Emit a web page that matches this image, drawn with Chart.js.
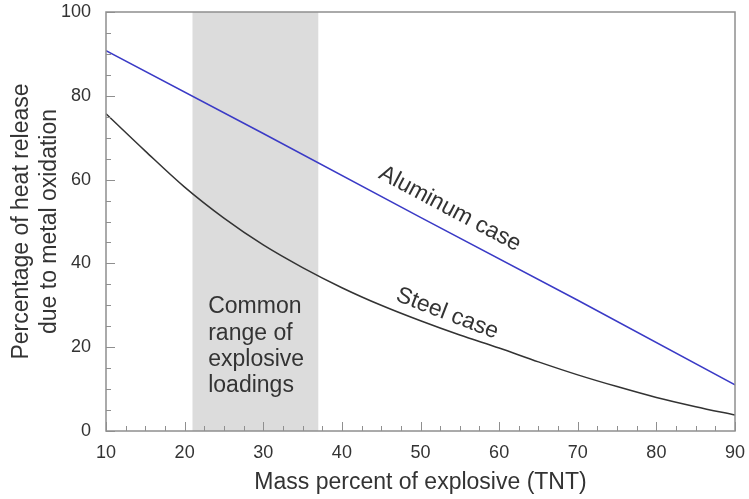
<!DOCTYPE html>
<html>
<head>
<meta charset="utf-8">
<script src="https://cdn.jsdelivr.net/npm/chart.js@4.4.1/dist/chart.umd.min.js"></script>
<style>
  html, body { margin: 0; padding: 0; background: #fff; }
  #wrap { width: 749px; height: 499px; }
</style>
</head>
<body>
<div id="wrap"><canvas id="chart" width="749" height="499"></canvas></div>
<script>
// --- Data ---
const steelX = [10, 15, 20, 25, 30, 35, 40, 45, 50, 55, 60, 65, 70, 75, 80, 85, 90];
const steelY = [75.7, 66.8, 58.2, 50.8, 44.4, 39, 34.2, 30, 26.3, 22.9, 19.8, 16.5, 13.4, 10.6, 8, 5.8, 3.8];
const aluminumX = [10, 30, 50, 70, 90];
const aluminumY = [90.8, 71, 51, 31.2, 11];
const loadingRange = [21, 37];          // shaded band (mass percent)
const xTicks = [10, 20, 30, 40, 50, 60, 70, 80, 90];
const yTicks = [0, 20, 40, 60, 80, 100];

const FONT = '"Liberation Sans", Arial, Helvetica, sans-serif';
const AXIS_GRAY = '#8f8f8f';
const TEXT = '#333333';

const toPoints = (xs, ys) => xs.map((x, i) => ({ x, y: ys[i] }));

// shaded band + frame + inward ticks
const decorPlugin = {
    id: 'decor',
    beforeDatasetsDraw(chart) {
        const { ctx, chartArea: a, scales: { x } } = chart;
        const x0 = x.getPixelForValue(loadingRange[0]);
        const x1 = x.getPixelForValue(loadingRange[1]);
        ctx.save();
        ctx.fillStyle = '#dcdcdc';
        ctx.fillRect(x0, a.top, x1 - x0, a.bottom - a.top);
        ctx.restore();
    },
    afterDraw(chart) {
        const { ctx, chartArea: a, scales: { x, y } } = chart;
        ctx.save();
        ctx.strokeStyle = AXIS_GRAY;
        ctx.lineWidth = 1.5;
        ctx.strokeRect(a.left, a.top, a.right - a.left, a.bottom - a.top);

        ctx.lineWidth = 1;
        ctx.beginPath();
        for (let v = 10; v <= 90; v += 2.5) {
            const px = Math.round(x.getPixelForValue(v)) + 0.5;
            const len = v % 10 === 0 ? 9 : 5;
            ctx.moveTo(px, a.bottom);
            ctx.lineTo(px, a.bottom - len);
        }
        for (let v = 0; v <= 100; v += 5) {
            const py = Math.round(y.getPixelForValue(v)) + 0.5;
            const len = v % 20 === 0 ? 9 : 5;
            ctx.moveTo(a.left, py);
            ctx.lineTo(a.left + len, py);
        }
        ctx.stroke();

        // annotations
        ctx.fillStyle = TEXT;
        ctx.font = '23px ' + FONT;
        ctx.textAlign = 'center';
        ctx.textBaseline = 'middle';

        const label = (text, vx, vy, deg) => {
            ctx.save();
            ctx.translate(x.getPixelForValue(vx), y.getPixelForValue(vy));
            ctx.rotate(deg * Math.PI / 180);
            ctx.fillText(text, 0, 0);
            ctx.restore();
        };
        label('Aluminum case', 53.75, 53, 28);
        label('Steel case', 53.4, 28, 21);

        ctx.textAlign = 'left';
        const lines = ['Common', 'range of', 'explosive', 'loadings'];
        const lx = x.getPixelForValue(23.0);
        const ly = y.getPixelForValue(29.6);
        lines.forEach((t, i) => ctx.fillText(t, lx, ly + i * 26.3));
        ctx.restore();
    }
};

new Chart(document.getElementById('chart'), {
    type: 'line',
    data: {
        datasets: [
            {
                label: 'Aluminum case',
                data: toPoints(aluminumX, aluminumY),
                borderColor: '#3a3ac6',
                borderWidth: 1.5,
                pointRadius: 0,
                tension: 0
            },
            {
                label: 'Steel case',
                data: toPoints(steelX, steelY),
                borderColor: '#333333',
                borderWidth: 1.5,
                pointRadius: 0,
                cubicInterpolationMode: 'monotone'
            }
        ]
    },
    options: {
        responsive: false,
        animation: false,
        events: [],
        layout: { padding: { left: 0, right: 14, top: 12, bottom: 0 } },
        plugins: { legend: { display: false }, tooltip: { enabled: false } },
        scales: {
            x: {
                type: 'linear',
                min: 10,
                max: 90,
                afterFit: s => { s.height = 68; s.paddingLeft = 0; s.paddingRight = 0; },
                afterBuildTicks: s => { s.ticks = xTicks.map(v => ({ value: v })); },
                grid: { display: false, drawTicks: false },
                border: { display: false },
                ticks: { color: TEXT, padding: 11, font: { family: FONT, size: 18 } },
                title: {
                    display: true,
                    text: 'Mass percent of explosive (TNT)',
                    color: TEXT,
                    padding: { top: 0, bottom: 3 },
                    font: { family: FONT, size: 23 }
                }
            },
            y: {
                type: 'linear',
                min: 0,
                max: 100,
                afterFit: s => { s.width = 106; s.paddingTop = 0; s.paddingBottom = 0; },
                afterBuildTicks: s => { s.ticks = yTicks.map(v => ({ value: v })); },
                grid: { display: false, drawTicks: false },
                border: { display: false },
                ticks: { color: TEXT, padding: 15, font: { family: FONT, size: 18 } },
                title: {
                    display: true,
                    text: ['Percentage of heat release', 'due to metal oxidation'],
                    color: TEXT,
                    padding: { top: 8, bottom: 0 },
                    font: { family: FONT, size: 23, lineHeight: 1.22 }
                }
            }
        }
    },
    plugins: [decorPlugin]
});
</script>
</body>
</html>
